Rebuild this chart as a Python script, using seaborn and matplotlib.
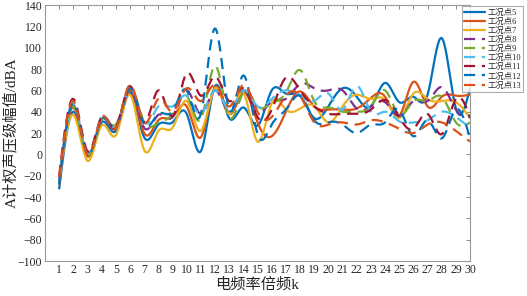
import numpy as np
import pandas as pd
import matplotlib
matplotlib.use('Agg')
import matplotlib.pyplot as plt
import seaborn as sns

k = list(range(1, 31))

p5 = [-32, 40, 0, 30, 22, 58, 16, 28, 30, 38, 3, 64, 34, 44, 27, 60, 57, 55, 34, 45,
      62, 54, 45, 67, 49, 54, 56, 109, 43, 62]
p6 = [-28, 44, -2, 33, 24, 60, 20, 32, 35, 45, 16, 63, 38, 58, 30, 17, 40, 59, 45, 42,
      42, 43, 53, 54, 36, 68, 45, 54, 55, 56]
p7 = [-25, 37, -6, 27, 18, 56, 4, 22, 25, 50, 22, 62, 38, 58, 12, 48, 42, 43, 45, 30,
      45, 56, 52, 51, 34, 57, 52, 50, 49, 34]
p8 = [-25, 46, 0, 33, 25, 60, 25, 37, 35, 60, 38, 60, 40, 60, 40, 50, 52, 66, 62, 60,
      60, 43, 45, 49, 36, 50, 50, 63, 42, 35]
p9 = [-22, 45, 0, 33, 28, 62, 30, 30, 38, 55, 33, 83, 35, 58, 45, 48, 58, 79, 50, 44,
      40, 40, 45, 60, 37, 50, 50, 54, 30, 30]
p10 = [-25, 48, 2, 35, 26, 62, 30, 45, 45, 55, 38, 60, 42, 60, 45, 52, 60, 55, 50, 57,
       42, 64, 40, 40, 31, 30, 32, 40, 35, 25]
p11 = [-20, 52, 3, 35, 26, 64, 30, 60, 36, 76, 55, 73, 50, 62, 35, 42, 72, 60, 45, 38,
       38, 38, 42, 51, 35, 24, 38, 19, 52, 35]
p12 = [-28, 48, 0, 33, 25, 62, 28, 38, 40, 60, 38, 118, 42, 74, 19, 28, 42, 55, 32, 30,
       28, 20, 28, 30, 42, 17, 32, 15, 42, 15]
p13 = [-22, 50, 0, 35, 25, 65, 30, 52, 40, 62, 50, 65, 45, 65, 40, 35, 55, 55, 30, 28,
       30, 28, 32, 30, 24, 20, 28, 30, 22, 12]

names = ['工况点5', '工况点6', '工况点7', '工况点8', '工况点9',
         '工况点10', '工况点11', '工况点12', '工况点13']
series = [p5, p6, p7, p8, p9, p10, p11, p12, p13]
colors = ['#0072BD', '#D95319', '#EDB120', '#7E2F8E', '#77AC30',
          '#4DBEEE', '#A2142F', '#0072BD', '#D95319']


def spline(x, y, n=600):
    # natural cubic spline through the measured points, for drawing only
    x = np.asarray(x, float)
    y = np.asarray(y, float)
    h = np.diff(x)
    m = len(x)
    A = np.zeros((m, m))
    b = np.zeros(m)
    A[0, 0] = A[-1, -1] = 1
    for i in range(1, m - 1):
        A[i, i - 1] = h[i - 1]
        A[i, i] = 2 * (h[i - 1] + h[i])
        A[i, i + 1] = h[i]
        b[i] = 6 * ((y[i + 1] - y[i]) / h[i] - (y[i] - y[i - 1]) / h[i - 1])
    M = np.linalg.solve(A, b)
    xs = np.linspace(x[0], x[-1], n)
    idx = np.clip(np.searchsorted(x, xs) - 1, 0, m - 2)
    x0, x1 = x[idx], x[idx + 1]
    hh = x1 - x0
    ys = (M[idx] * (x1 - xs) ** 3 / (6 * hh) + M[idx + 1] * (xs - x0) ** 3 / (6 * hh)
          + (y[idx] - M[idx] * hh ** 2 / 6) * (x1 - xs) / hh
          + (y[idx + 1] - M[idx + 1] * hh ** 2 / 6) * (xs - x0) / hh)
    return xs, ys


def main():
    sns.set_style('white')
    plt.rcParams['font.family'] = ['Liberation Serif', 'Noto Sans CJK SC']

    frames = []
    for name, vals in zip(names, series):
        xs, ys = spline(k, vals)
        frames.append(pd.DataFrame({'k': xs, 'v': ys, 'name': name}))
    df = pd.concat(frames, ignore_index=True)

    dashes = {n: ('' if i < 3 else (5, 3)) for i, n in enumerate(names)}

    fig = plt.figure(figsize=(5.27, 2.96), dpi=100)
    ax = fig.add_axes([0.0854, 0.118, 0.8066, 0.865])
    sns.lineplot(data=df, x='k', y='v', hue='name', style='name',
                 palette=dict(zip(names, colors)), dashes=dashes,
                 linewidth=1.6, ax=ax, sort=False, estimator=None)

    ax.set_xlim(0, 30)
    ax.set_ylim(-100, 140)
    ax.set_xticks(k)
    ax.set_yticks(range(-100, 141, 20))
    ax.tick_params(direction='in', length=3, width=0.6, labelsize=8.5,
                   top=True, right=True, color='#777777', pad=2)
    for s in ax.spines.values():
        s.set_color('#999999')
        s.set_linewidth(0.8)
    ax.set_xlabel('电频率倍频k', fontsize=11, labelpad=1)
    ax.set_ylabel('A计权声压级幅值/dBA', fontsize=11, labelpad=0)

    leg = ax.legend(loc='upper left', bbox_to_anchor=(0.981, 0.995), fontsize=6,
                    frameon=True, fancybox=False, handlelength=2.5,
                    borderpad=0.25, labelspacing=0.12, handletextpad=0.3,
                    borderaxespad=0.0)
    leg.get_frame().set_edgecolor('#999999')
    leg.get_frame().set_linewidth(0.8)
    for line in leg.get_lines():
        line.set_linewidth(1.6)

    fig.savefig('out.png', dpi=100)


if __name__ == '__main__':
    main()
